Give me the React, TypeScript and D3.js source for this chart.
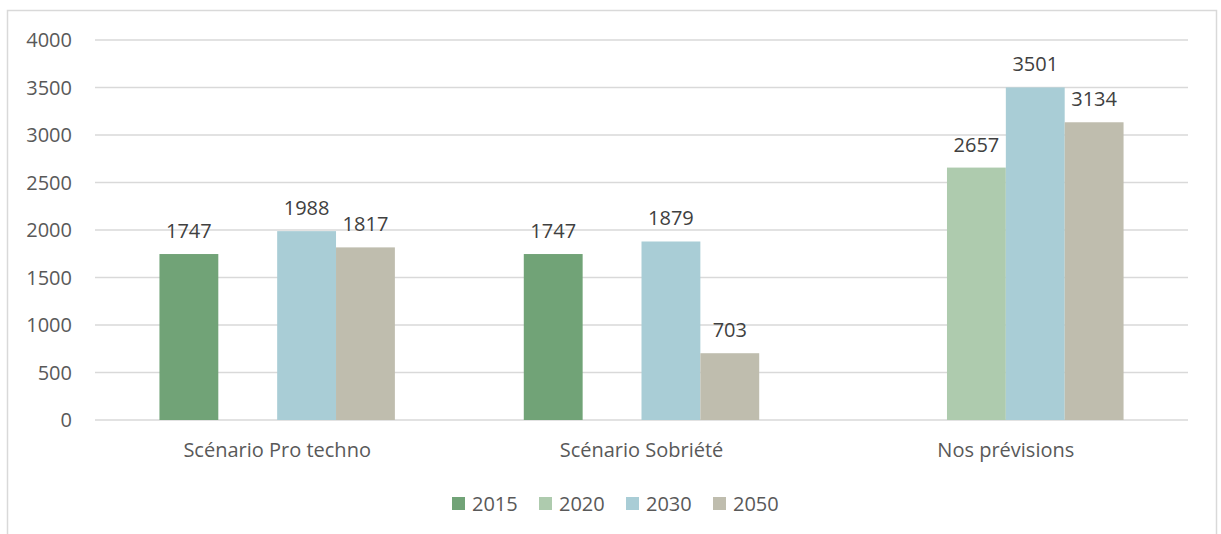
import * as d3 from "d3";

const categories = ["Scénario Pro techno", "Scénario Sobriété", "Nos prévisions"];
const years = ["2015", "2020", "2030", "2050"];
// one array per year, null = no bar for that scenario
const values2015: (number | null)[] = [1747, 1747, null];
const values2020: (number | null)[] = [null, null, 2657];
const values2030: (number | null)[] = [1988, 1879, 3501];
const values2050: (number | null)[] = [1817, 703, 3134];
const yTicks = [0, 500, 1000, 1500, 2000, 2500, 3000, 3500, 4000];
const colors = ["#71a377", "#aecbae", "#a9cdd6", "#bfbdae"];

const series = [values2015, values2020, values2030, values2050];

const App = () => {
  const width = 1221;
  const height = 534;
  const margin = { top: 40, right: 33, bottom: 114, left: 95 };
  const innerWidth = width - margin.left - margin.right;
  const innerHeight = height - margin.top - margin.bottom;

  const x0 = d3.scaleBand().domain(categories).range([0, innerWidth]);
  const groupWidth = x0.bandwidth() * (4 / 6.19);
  const x1 = d3
    .scaleBand()
    .domain(years)
    .range([(x0.bandwidth() - groupWidth) / 2, (x0.bandwidth() + groupWidth) / 2]);

  const y = d3.scaleLinear().domain([0, 4000]).range([innerHeight, 0]);

  const font = "'Open Sans', 'Liberation Sans', sans-serif";
  const textColor = "#595959";
  const fs = 20;

  return (
    <svg
      width={width}
      height={height}
      style={{ position: "absolute", left: 0, top: 0 }}
      fontFamily={font}
    >
      <rect x={0} y={0} width={width} height={height} fill="#fff" />
      <rect
        x={7.5}
        y={10.5}
        width={1209}
        height={540}
        fill="none"
        stroke="#d9d9d9"
        strokeWidth={1.5}
      />
      <g transform={`translate(${margin.left},${margin.top})`}>
        {yTicks.map((t) => (
          <g key={t}>
            <line
              x1={0}
              x2={innerWidth}
              y1={y(t)}
              y2={y(t)}
              stroke="#d9d9d9"
              strokeWidth={1.5}
            />
            <text
              x={-23}
              y={y(t)}
              dy="0.35em"
              textAnchor="end"
              fontSize={fs}
              fill={textColor}
            >
              {t}
            </text>
          </g>
        ))}
        {categories.map((c, ci) => (
          <g key={c} transform={`translate(${x0(c)},0)`}>
            {years.map((yr, si) => {
              const v = series[si][ci];
              if (v == null) return null;
              const bx = x1(yr)!;
              return (
                <g key={yr}>
                  <rect
                    x={bx}
                    y={y(v)}
                    width={x1.bandwidth()}
                    height={innerHeight - y(v)}
                    fill={colors[si]}
                  />
                  <text
                    x={bx + x1.bandwidth() / 2}
                    y={y(v) - 16}
                    textAnchor="middle"
                    fontSize={fs}
                    fill="#404040"
                  >
                    {v}
                  </text>
                </g>
              );
            })}
            <text
              x={x0.bandwidth() / 2}
              y={innerHeight + 37}
              textAnchor="middle"
              fontSize={fs}
              fill={textColor}
            >
              {c}
            </text>
          </g>
        ))}
      </g>
      <g transform="translate(452,497)">
        {years.map((yr, i) => (
          <g key={yr} transform={`translate(${i * 87},0)`}>
            <rect x={0} y={0} width={13} height={13} fill={colors[i]} />
            <text x={20} y={6.5} dy="0.35em" fontSize={fs} fill={textColor}>
              {yr}
            </text>
          </g>
        ))}
      </g>
    </svg>
  );
};

export default App;
